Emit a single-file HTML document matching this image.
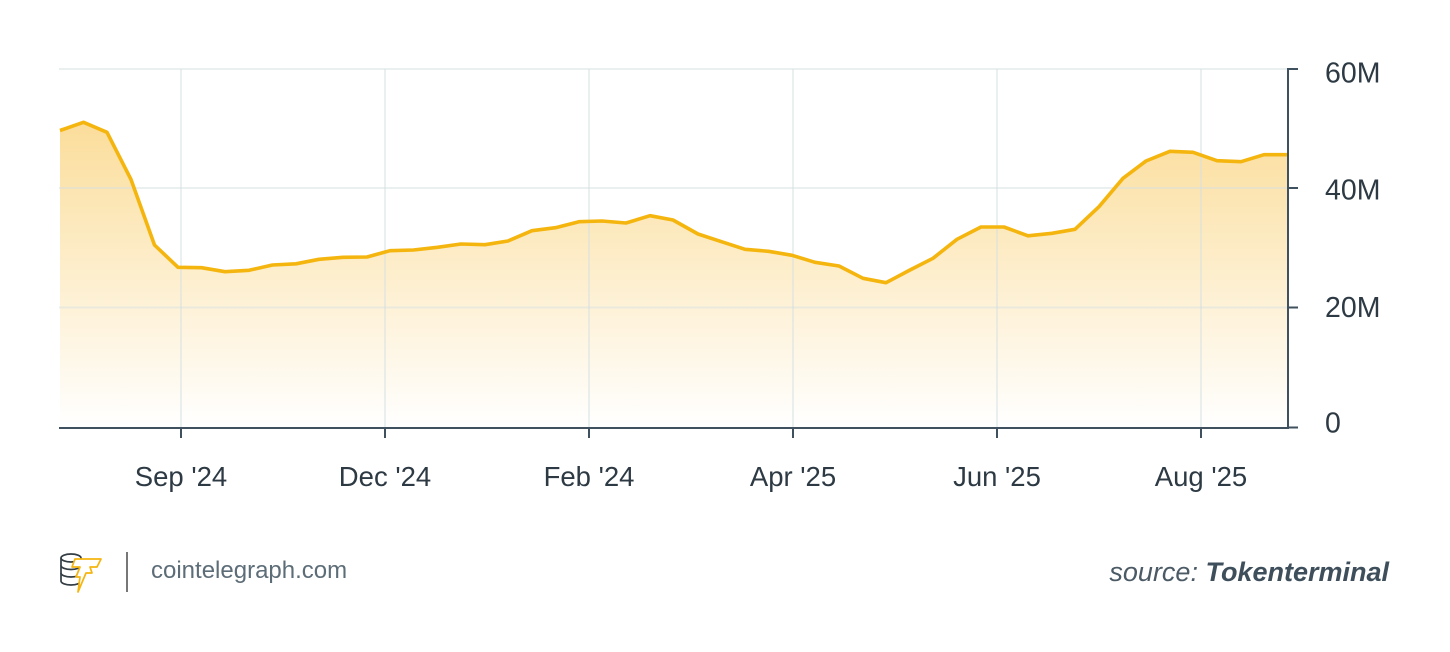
<!DOCTYPE html>
<html>
<head>
<meta charset="utf-8">
<style>
  html,body{margin:0;padding:0;background:#fff;}
  body{width:1450px;height:652px;overflow:hidden;}
  svg{display:block;}
  text{font-family:"Liberation Sans", "DejaVu Sans", sans-serif;}
</style>
</head>
<body>
<svg width="1450" height="652" viewBox="0 0 1450 652" xmlns="http://www.w3.org/2000/svg">
  <defs>
    <linearGradient id="fillg" gradientUnits="userSpaceOnUse" x1="0" y1="120" x2="0" y2="427">
      <stop offset="0" stop-color="#fbdd9a"/>
      <stop offset="1" stop-color="#ffffff"/>
    </linearGradient>
  </defs>

  <!-- area fill -->
  <path fill="url(#fillg)" d="M60,130.5 L83.5,122.3 L107,132.3 L131,179.5 L154.5,245 L178,267.3 L201.5,267.7 L225,271.7 L249,270.3 L272.5,265 L296,263.8 L319,259.3 L343,257.3 L367,257 L390,250.7 L413.5,250 L437.5,247.3 L461,244 L485,244.7 L508,241 L532,230.7 L555.5,227.7 L579,221.7 L602,221 L626,223 L650,215.7 L673,220 L698,234 L721.5,241.7 L745,249.3 L768.5,251.3 L792,255.3 L815,262.3 L839,266 L863,278.3 L886,282.7 L910,270 L933,258.3 L957,239.3 L981,227 L1004,227 L1028,235.8 L1052,233.3 L1075,229.3 L1099,206.7 L1123,178.3 L1146,161 L1170,151.3 L1193,152.3 L1217,160.7 L1241,161.7 L1264,154.7 L1288,154.7 L1288,428 L60,428 Z"/>

  <!-- gridlines -->
  <g stroke="#d5dfe2" stroke-opacity="0.5" stroke-width="2">
    <line x1="59" y1="69" x2="1288" y2="69"/>
    <line x1="59" y1="188" x2="1288" y2="188"/>
    <line x1="59" y1="307.5" x2="1288" y2="307.5"/>
    <line x1="181" y1="69" x2="181" y2="428"/>
    <line x1="385" y1="69" x2="385" y2="428"/>
    <line x1="589" y1="69" x2="589" y2="428"/>
    <line x1="793" y1="69" x2="793" y2="428"/>
    <line x1="997" y1="69" x2="997" y2="428"/>
    <line x1="1201" y1="69" x2="1201" y2="428"/>
  </g>

  <!-- line -->
  <polyline fill="none" stroke="#f5b50f" stroke-width="3.6" stroke-linejoin="round" stroke-linecap="butt" points="60,130.5 83.5,122.3 107,132.3 131,179.5 154.5,245 178,267.3 201.5,267.7 225,271.7 249,270.3 272.5,265 296,263.8 319,259.3 343,257.3 367,257 390,250.7 413.5,250 437.5,247.3 461,244 485,244.7 508,241 532,230.7 555.5,227.7 579,221.7 602,221 626,223 650,215.7 673,220 698,234 721.5,241.7 745,249.3 768.5,251.3 792,255.3 815,262.3 839,266 863,278.3 886,282.7 910,270 933,258.3 957,239.3 981,227 1004,227 1028,235.8 1052,233.3 1075,229.3 1099,206.7 1123,178.3 1146,161 1170,151.3 1193,152.3 1217,160.7 1241,161.7 1264,154.7 1288,154.7"/>

  <!-- axes -->
  <g stroke="#3f515e" stroke-width="2" fill="none">
    <line x1="59" y1="428" x2="1289" y2="428"/>
    <line x1="1288" y1="68" x2="1288" y2="429"/>
    <line x1="1288" y1="69" x2="1298" y2="69"/>
    <line x1="1288" y1="188" x2="1298" y2="188"/>
    <line x1="1288" y1="307.5" x2="1298" y2="307.5"/>
    <line x1="1288" y1="427.5" x2="1298" y2="427.5"/>
    <line x1="181" y1="428" x2="181" y2="438"/>
    <line x1="385" y1="428" x2="385" y2="438"/>
    <line x1="589" y1="428" x2="589" y2="438"/>
    <line x1="793" y1="428" x2="793" y2="438"/>
    <line x1="997" y1="428" x2="997" y2="438"/>
    <line x1="1201" y1="428" x2="1201" y2="438"/>
  </g>

  <!-- y labels -->
  <g fill="#2d3a44" font-size="28.5">
    <text x="1325" y="82.5">60M</text>
    <text x="1325" y="199.5">40M</text>
    <text x="1325" y="317">20M</text>
    <text x="1325" y="432.5">0</text>
  </g>

  <!-- x labels -->
  <g fill="#2d3a44" font-size="27.5" text-anchor="middle">
    <text x="181" y="486">Sep '24</text>
    <text x="385" y="486">Dec '24</text>
    <text x="589" y="486">Feb '24</text>
    <text x="793" y="486">Apr '25</text>
    <text x="997" y="486">Jun '25</text>
    <text x="1201" y="486">Aug '25</text>
  </g>

  <!-- logo -->
  <g fill="none" stroke="#333d44" stroke-width="1.7">
    <ellipse cx="71" cy="558" rx="10" ry="4"/>
    <path d="M61,558 L61,581 A10,4 0 0 0 81,581 L81,558"/>
    <path d="M61,565.5 A10,4 0 0 0 81,565.5"/>
    <path d="M61,573 A10,4 0 0 0 81,573"/>
  </g>
  <polygon fill="#ffffff" stroke="#f5b50f" stroke-width="1.7" stroke-linejoin="round" points="75,559 101,559 97,567 90,567 92,573 86,573 78,592 80,577 76,577 80,567 72,567"/>
  <line x1="127" y1="552" x2="127" y2="592" stroke="#777" stroke-width="2"/>
  <text x="151" y="578" font-size="24" fill="#5d6d78">cointelegraph.com</text>

  <!-- source -->
  <text x="1389" y="581" font-size="27" fill="#4b5a65" text-anchor="end" font-style="italic"><tspan font-weight="300">source: </tspan><tspan font-weight="bold" fill="#3e4f5b">Tokenterminal</tspan></text>
</svg>
</body>
</html>
